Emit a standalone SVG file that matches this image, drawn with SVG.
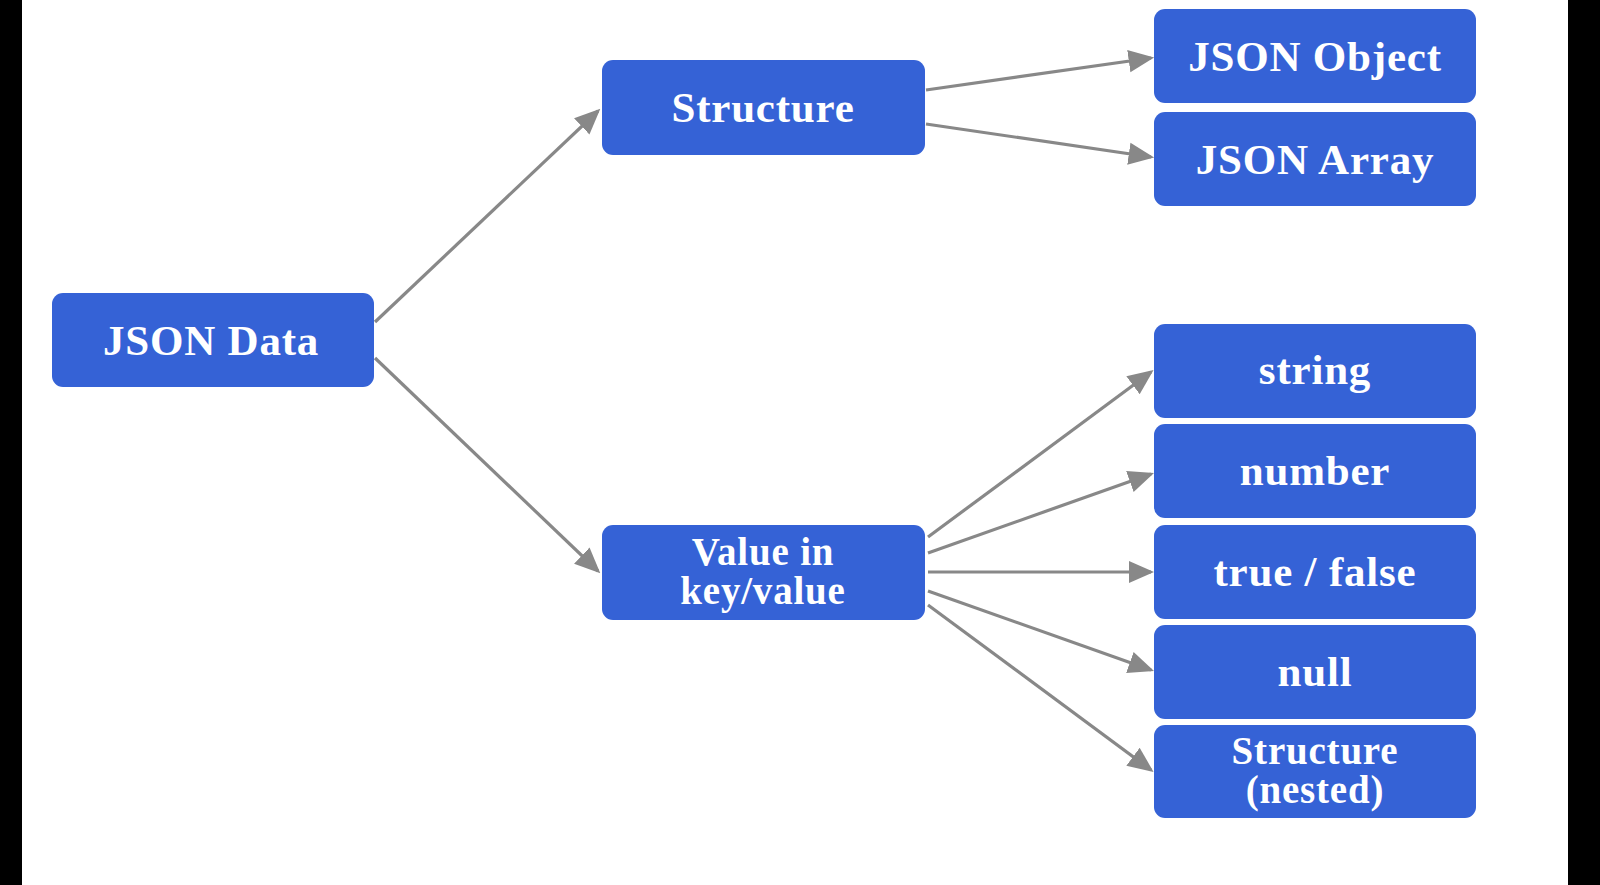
<svg xmlns="http://www.w3.org/2000/svg" width="1600" height="885" viewBox="0 0 1600 885">
<defs>
<style>
.node rect{fill:#3562D6;}
.node text{fill:#ffffff;font-family:"Liberation Serif","Times New Roman",serif;font-weight:bold;font-size:43px;text-anchor:middle;letter-spacing:0.8px;}
.node text.two{font-size:39px;}
.conn line{stroke:#888888;stroke-width:3.2;marker-end:url(#ah);}
</style>
<marker id="ah" markerWidth="8" markerHeight="8" refX="7" refY="4" orient="auto" markerUnits="strokeWidth">
<path d="M0,0.5 L8,4 L0,7.5 Z" fill="#888888"/>
</marker>
</defs>
<rect x="0" y="0" width="1600" height="885" fill="#ffffff"/>
<rect x="0" y="0" width="22" height="885" fill="#000000"/>
<rect x="1568" y="0" width="32" height="885" fill="#000000"/>
<g class="conn">
<line x1="375" y1="322" x2="598" y2="111"/>
<line x1="375" y1="358" x2="598" y2="571"/>
<line x1="926" y1="90" x2="1151" y2="58"/>
<line x1="926" y1="124" x2="1151" y2="157"/>
<line x1="928" y1="537" x2="1151" y2="372"/>
<line x1="928" y1="553" x2="1151" y2="474"/>
<line x1="928" y1="572" x2="1151" y2="572"/>
<line x1="928" y1="591" x2="1151" y2="670"/>
<line x1="928" y1="605" x2="1151" y2="770"/>
</g>
<g id="json-data" class="node"><rect x="52" y="293" width="322" height="94" rx="11"/><text x="211" y="355">JSON Data</text></g>
<g id="structure" class="node"><rect x="602" y="60" width="323" height="95" rx="11"/><text x="763" y="122">Structure</text></g>
<g id="value" class="node"><rect x="602" y="525" width="323" height="95" rx="11"/><text class="two" x="763" y="565">Value in</text><text class="two" x="763" y="604">key/value</text></g>
<g id="json-object" class="node"><rect x="1154" y="9" width="322" height="94" rx="11"/><text x="1315" y="71">JSON Object</text></g>
<g id="json-array" class="node"><rect x="1154" y="112" width="322" height="94" rx="11"/><text x="1315" y="174">JSON Array</text></g>
<g id="string" class="node"><rect x="1154" y="324" width="322" height="94" rx="11"/><text x="1315" y="384">string</text></g>
<g id="number" class="node"><rect x="1154" y="424" width="322" height="94" rx="11"/><text x="1315" y="485">number</text></g>
<g id="true-false" class="node"><rect x="1154" y="525" width="322" height="94" rx="11"/><text x="1315" y="586">true / false</text></g>
<g id="null" class="node"><rect x="1154" y="625" width="322" height="94" rx="11"/><text x="1315" y="686">null</text></g>
<g id="structure-nested" class="node"><rect x="1154" y="725" width="322" height="93" rx="11"/><text class="two" x="1315" y="764">Structure</text><text class="two" x="1315" y="803">(nested)</text></g>
</svg>
